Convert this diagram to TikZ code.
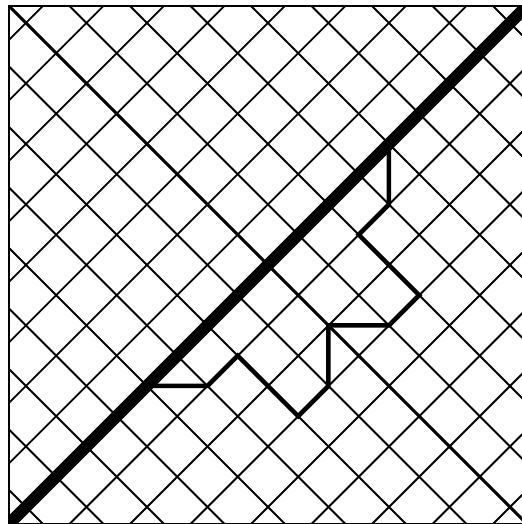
\documentclass[tikz,border=0pt]{standalone}
\begin{document}
\begin{tikzpicture}[
  gridline/.style={line width=0.9pt},
  middiag/.style={line width=1.4pt},
  maindiag/.style={line width=5.6pt},
  pathline/.style={line width=2.1pt, line join=miter},
  frame/.style={line width=0.9pt}
]
\useasboundingbox (-0.149,-0.002) rectangle (8.479,8.659);
\def\Lside{8.56}
\begin{scope}
  \clip (0,0) rectangle (\Lside,\Lside);
  \begin{scope}[shift={(4.28,4.28)}, x={(0.5cm,-0.5cm)}, y={(0.5cm,0.5cm)}]
    \foreach \n in {-8,...,8} {
      \draw[gridline] (\n,-10) -- (\n,10);
      \draw[gridline] (-10,\n) -- (10,\n);
    }
    \draw[middiag] (-10,0) -- (10,0);
    \coordinate (p0) at (0,-4);
    \coordinate (p1) at (1,-3);
    \coordinate (p2) at (1,-2);
    \coordinate (p3) at (3,-2);
    \coordinate (p4) at (3,-1);
    \coordinate (p5) at (2,0);
    \coordinate (p6) at (3,1);
    \coordinate (p7) at (3,2);
    \coordinate (p8) at (1,2);
    \coordinate (p9) at (1,3);
    \coordinate (p10) at (0,4);
    \draw[pathline] (p0) -- (p1) -- (p2) -- (p3) -- (p4) -- (p5) -- (p6) -- (p7) -- (p8) -- (p9) -- (p10);
    \draw[maindiag] (0,-10) -- (0,10);
  \end{scope}
\end{scope}
\draw[frame] (0,0) rectangle (\Lside,\Lside);
\end{tikzpicture}
\end{document}
